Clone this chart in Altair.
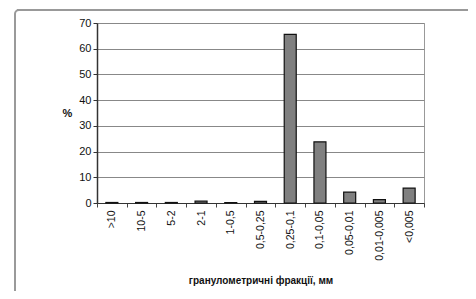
import altair as alt
import pandas as pd

categories = [">10", "10-5", "5-2", "2-1", "1-0,5", "0,5-0,25", "0,25-0,1",
              "0,1-0,05", "0,05-0,01", "0,01-0,005", "<0,005"]
values = [0.2, 0.2, 0.2, 0.7, 0.2, 0.6, 65.6, 23.8, 4.2, 1.3, 5.8]
y_ticks = [0, 10, 20, 30, 40, 50, 60, 70]

df = pd.DataFrame({"cat": categories, "val": values})
FONT = "Liberation Sans"

bars = alt.Chart(df).mark_bar(size=12, color="#808080", stroke="#111111", strokeWidth=1.2).encode(
    x=alt.X("cat:N", sort=categories, scale=alt.Scale(paddingInner=0, paddingOuter=0),
            axis=alt.Axis(title="гранулометричні фракції, мм", labelAngle=-90, labelAlign="right",
                          labelBaseline="middle", labelFontSize=10.5, labelFont=FONT, labelColor="#111",
                          labelPadding=3, tickBand="extent", ticks=True, tickSize=4, tickColor="#444",
                          domainColor="#333", titleFont=FONT, titleFontSize=10, titleFontWeight="bold",
                          titleY=80, titleBaseline="alphabetic", titleColor="#111", grid=False)),
    y=alt.Y("val:Q", scale=alt.Scale(domain=[0, 70], nice=False),
            axis=alt.Axis(title="%", values=y_ticks, titleAngle=0, titleX=-30, titleY=90,
                          titleAlign="center", titleBaseline="middle", titleFont=FONT,
                          titleFontSize=11, titleFontWeight="bold", titleColor="#111",
                          labelFont=FONT, labelFontSize=11, labelColor="#111", labelPadding=2,
                          tickSize=4, tickColor="#333", domainColor="#333", domainWidth=1.5,
                          gridColor="#888", gridWidth=1)),
)

box_main = alt.Chart().mark_rect(fill="transparent", stroke="#9a9a9a", strokeWidth=2,
                                  cornerRadius=4, clip=False).encode(
    x=alt.value(-82), x2=alt.value(420), y=alt.value(-13), y2=alt.value(320))
box_left = alt.Chart().mark_rect(fill="transparent", stroke="#9a9a9a", strokeWidth=2,
                                  cornerRadius=4, clip=False).encode(
    x=alt.value(-200), x2=alt.value(-95), y=alt.value(-13), y2=alt.value(320))
top_line = alt.Chart().mark_rule(stroke="#999999", strokeWidth=2, clip=False).encode(
    x=alt.value(-80), x2=alt.value(400), y=alt.value(-13))

chart = alt.layer(box_main, box_left, top_line, bars).properties(
    width=327, height=180,
    autosize=alt.AutoSizeParams(type="none"),
    padding={"left": 89, "top": 15, "right": 44, "bottom": 88},
).configure_view(stroke="#999999", strokeWidth=1)

chart.save("out.html", embed_options={"renderer": "svg", "actions": False})
